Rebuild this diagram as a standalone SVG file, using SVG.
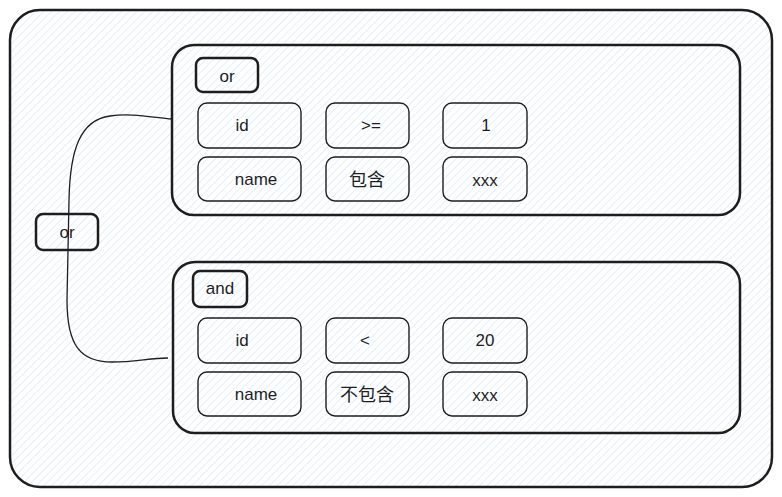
<svg xmlns="http://www.w3.org/2000/svg" width="782" height="497" viewBox="0 0 782 497">
<defs>
<pattern id="hach" width="5.5" height="5.5" patternUnits="userSpaceOnUse" patternTransform="rotate(45)">
<line x1="0" y1="0" x2="0" y2="5.5" stroke="#d8edff" stroke-width="1.6"/>
</pattern>
</defs>
<style>
.outer{fill:url(#hach);stroke:#1e1e1e;stroke-width:2.5}
.group{fill:none;stroke:#1e1e1e;stroke-width:2.5}
.tag{fill:none;stroke:#1e1e1e;stroke-width:2.5}
.cell{fill:none;stroke:#1e1e1e;stroke-width:1.4}
.conn{fill:none;stroke:#1e1e1e;stroke-width:1.3}
text{font-family:"Liberation Sans","Noto Sans CJK SC",sans-serif;font-size:17px;fill:#1e1e1e;text-anchor:middle;dominant-baseline:central}
.cjk{font-family:"Noto Sans CJK SC","Liberation Sans",sans-serif;font-size:18px}
</style>
<g id="container"><rect class="outer" x="10" y="10" width="762" height="477" rx="30"/></g>
<g id="connectors">
<path class="conn" d="M172,119 C150,117 130,113 110,116 C80,120 70,150 69,200 L67,300 C67,345 80,362 112,362 C135,362 150,358 168,358"/>
</g>
<g id="group-or"><rect class="group" x="172" y="45" width="568" height="170" rx="22"/></g>
<g id="tag-or-top"><rect class="tag" x="196" y="58" width="62" height="34" rx="7"/><text x="227" y="76">or</text></g>
<g id="cell-id-1"><rect class="cell" x="198" y="103" width="103" height="45" rx="9"/><text x="242" y="125">id</text></g>
<g id="cell-op-1"><rect class="cell" x="326" y="103" width="83" height="45" rx="9"/><text x="371" y="125">&gt;=</text></g>
<g id="cell-val-1"><rect class="cell" x="443" y="103" width="84" height="45" rx="9"/><text x="486" y="125">1</text></g>
<g id="cell-name-1"><rect class="cell" x="198" y="157" width="103" height="44" rx="9"/><text x="256" y="179">name</text></g>
<g id="cell-op-2"><rect class="cell" x="326" y="157" width="83" height="44" rx="9"/><text class="cjk" x="367" y="178">包含</text></g>
<g id="cell-val-2"><rect class="cell" x="443" y="157" width="84" height="44" rx="9"/><text x="485" y="180">xxx</text></g>
<g id="group-and"><rect class="group" x="173" y="262" width="567" height="171" rx="22"/></g>
<g id="tag-and"><rect class="tag" x="193" y="271" width="54" height="36" rx="7"/><text x="220" y="288">and</text></g>
<g id="cell-id-2"><rect class="cell" x="198" y="318" width="103" height="45" rx="9"/><text x="242" y="340">id</text></g>
<g id="cell-op-3"><rect class="cell" x="326" y="318" width="83" height="45" rx="9"/><text x="365" y="340">&lt;</text></g>
<g id="cell-val-3"><rect class="cell" x="443" y="318" width="84" height="45" rx="9"/><text x="485" y="340">20</text></g>
<g id="cell-name-2"><rect class="cell" x="198" y="372" width="103" height="44" rx="9"/><text x="256" y="394">name</text></g>
<g id="cell-op-4"><rect class="cell" x="326" y="372" width="83" height="44" rx="9"/><text class="cjk" x="367" y="393">不包含</text></g>
<g id="cell-val-4"><rect class="cell" x="443" y="372" width="84" height="44" rx="9"/><text x="485" y="395">xxx</text></g>
<g id="tag-or-left"><rect class="tag" x="36" y="214" width="62" height="36" rx="7"/><text x="67" y="232">or</text></g>
</svg>
